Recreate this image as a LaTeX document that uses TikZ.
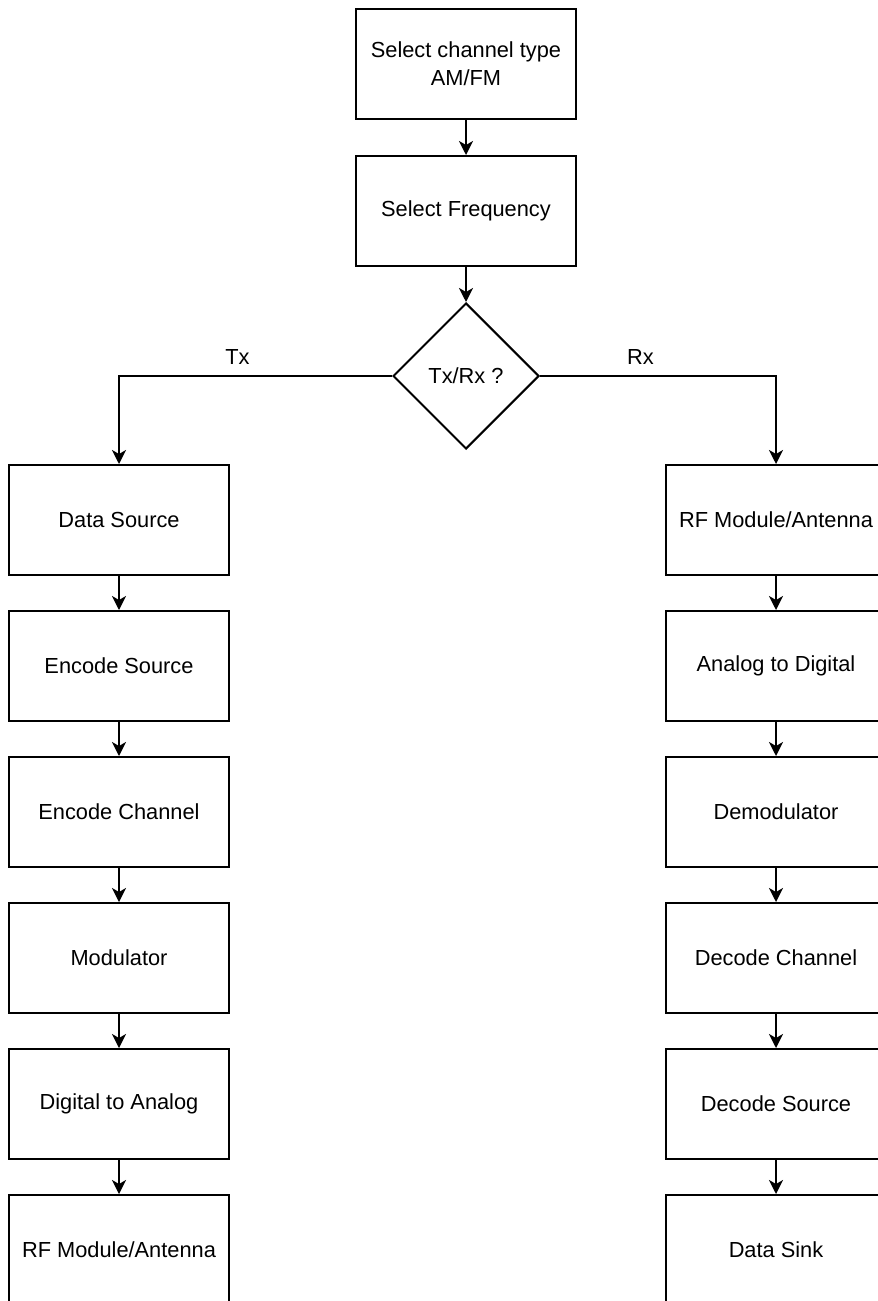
\documentclass[tikz,border=0pt]{standalone}
\usepackage{fontspec}
\setmainfont{Liberation Sans}
\usetikzlibrary{
    arrows.meta,
    positioning,
    shapes.geometric
}
\tikzset{
  block/.style   = {draw, line width=1pt, minimum width=110pt,
                    minimum height=55pt, align=center,
                    font=\fontsize{10.9}{14}\selectfont},
  choice/.style  = {draw, diamond, line width=1pt, minimum width=73pt,
                    minimum height=73pt, inner sep=0pt,
                    font=\fontsize{10.9}{14}\selectfont},
  arr/.style     = {-{Stealth[length=7pt, width=7pt, inset=2pt]},
                    line width=1pt}
}

\begin{document}
\begin{tikzpicture}[x=0.5pt, y=-0.5pt, node distance=17pt]
    \useasboundingbox (0,0) rectangle (878,1301);

    \node[block] (sel) at (466,64) {Select channel type\\AM/FM};
    \node[block, below=17.5pt of sel] (freq) {Select Frequency};
    \node[choice, below=17.5pt of freq] (dec) {Tx/Rx ?};

    % transmitter side
    \node[block] (ds) at (119,520) {Data Source};
    \node[block, below=of ds] (es) {Encode Source};
    \node[block, below=of es] (ec) {Encode Channel};
    \node[block, below=of ec] (mod) {Modulator};
    \node[block, below=of mod] (dac) {Digital to Analog};
    \node[block, below=of dac] (rft) {RF Module/Antenna};

    % receiver side
    \node[block] (rfr) at (776,520) {RF Module/Antenna};
    \node[block, below=of rfr] (adc) {Analog to Digital};
    \node[block, below=of adc] (dem) {Demodulator};
    \node[block, below=of dem] (dch) {Decode Channel};
    \node[block, below=of dch] (dsr) {Decode Source};
    \node[block, below=of dsr] (sink) {Data Sink};

    \draw[arr] (sel) -- (freq);
    \draw[arr] (freq) -- (dec);
    \draw[arr] (dec.west) -| node[pos=0.283, above=2pt,
          font=\fontsize{10.9}{14}\selectfont] {Tx} (ds.north);
    \draw[arr] (dec.east) -| node[pos=0.213, above=2pt,
          font=\fontsize{10.9}{14}\selectfont] {Rx} (rfr.north);

    \foreach \a/\b in {ds/es, es/ec, ec/mod, mod/dac, dac/rft,
                       rfr/adc, adc/dem, dem/dch, dch/dsr, dsr/sink}
      \draw[arr] (\a) -- (\b);
\end{tikzpicture}
\end{document}
